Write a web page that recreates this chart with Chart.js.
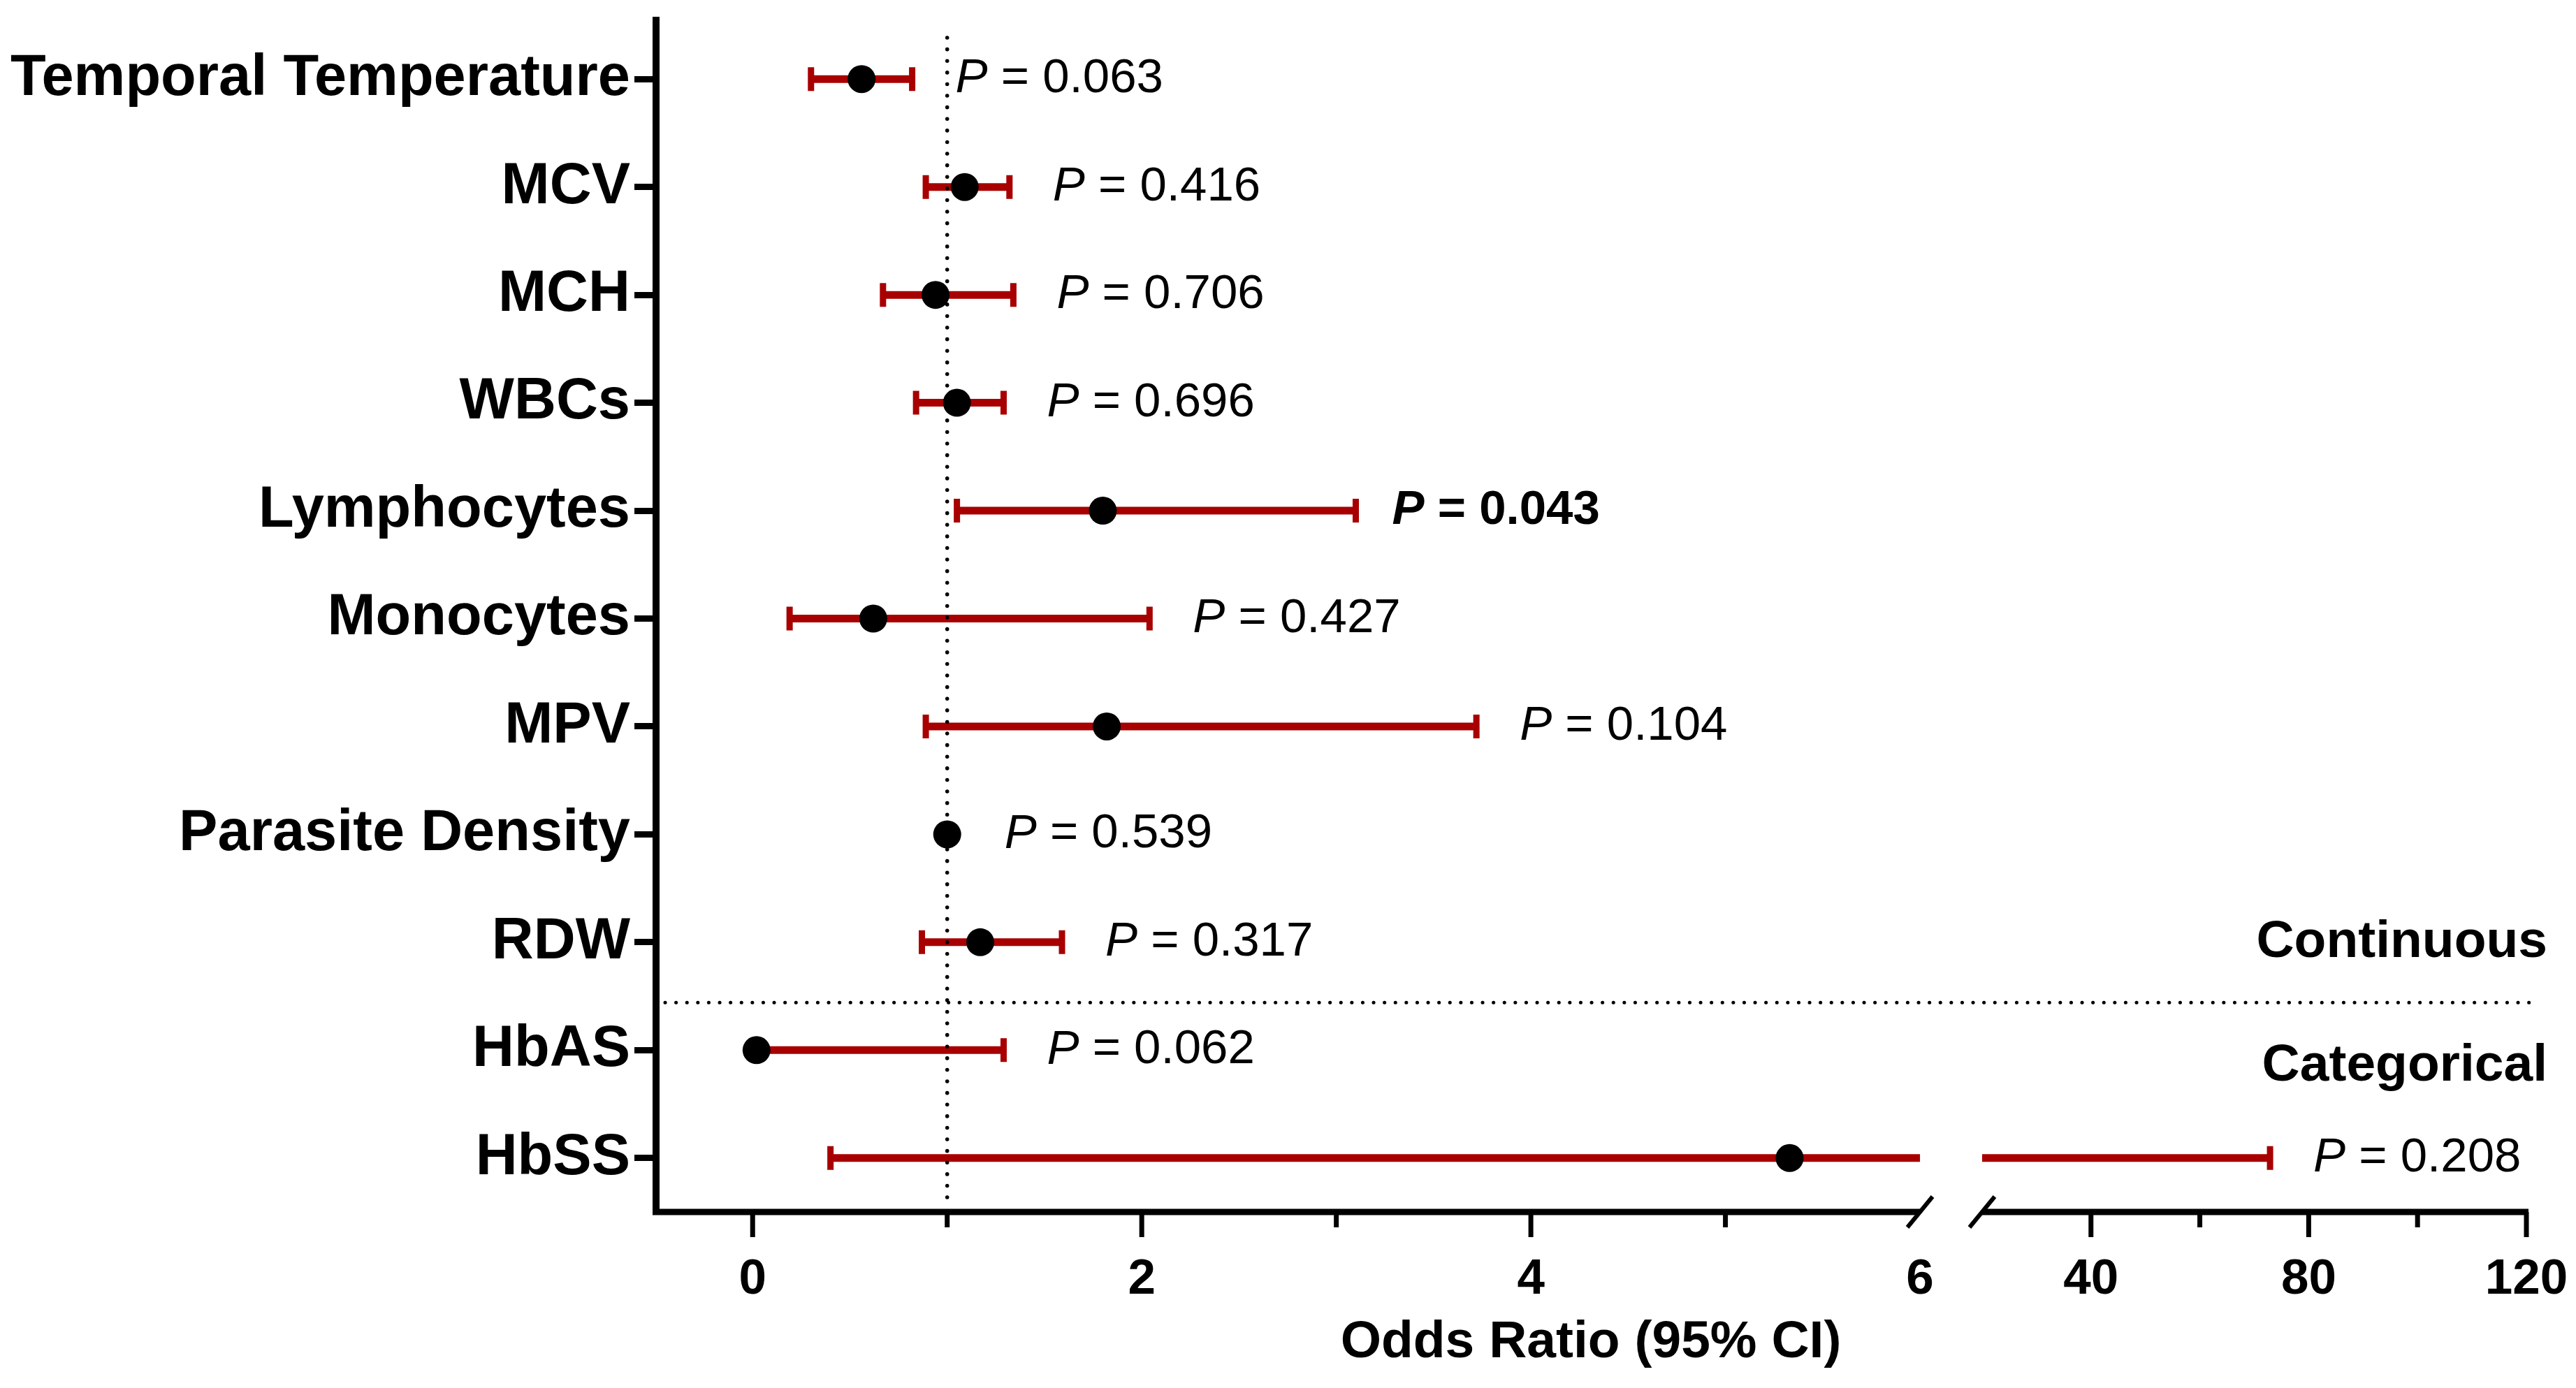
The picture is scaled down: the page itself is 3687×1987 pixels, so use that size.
<!DOCTYPE html>
<html>
<head>
<meta charset="utf-8">
<title>Odds Ratio (95% CI)</title>
<script src="https://cdn.jsdelivr.net/npm/chart.js@4.4.1/dist/chart.umd.min.js"></script>
<style>
  html, body { margin: 0; padding: 0; background: #fff; }
  #wrap { width: 3687px; height: 1987px; position: relative; }
</style>
</head>
<body>
<div id="wrap"><canvas id="forest"></canvas></div>
<script>
// data
const variables = ['Temporal Temperature', 'MCV', 'MCH', 'WBCs', 'Lymphocytes', 'Monocytes',
                   'MPV', 'Parasite Density', 'RDW', 'HbAS', 'HbSS'];
const oddsRatio = [0.56, 1.09, 0.94, 1.05, 1.80, 0.62, 1.82, 1.00, 1.17, 0.02, 5.33];
const ciLower   = [0.30, 0.89, 0.67, 0.84, 1.05, 0.19, 0.89, 1.00, 0.87, 0.00, 0.40];
const ciUpper   = [0.82, 1.32, 1.34, 1.29, 3.10, 2.04, 3.72, 1.00, 1.59, 1.29, 72.9];
const pValues   = ['0.063', '0.416', '0.706', '0.696', '0.043', '0.427', '0.104', '0.539', '0.317', '0.062', '0.208'];
const groupNames = ['Continuous', 'Categorical'];
const lastContinuous = 8;   // RDW is the last continuous variable
const xTicks  = [0, 1, 2, 3, 4, 5, 6, 40, 60, 80, 100, 120];
const xLabels = ['0', '', '2', '', '4', '', '6', '40', '', '80', '', '120'];
const axisBreak = [6, 20];
const refLine = 1;

const RED = '#a80000';
const FONT = "'Liberation Sans', Arial, Helvetica, sans-serif";

// linear scale with a gap between axisBreak[0] and axisBreak[1]
class BrokenScale extends Chart.LinearScale {
  segs() {
    const o = this.options;
    return { lo: o.min, b0: o.breakFrom, b1: o.breakTo, hi: o.max, f1: o.splitLeft, f2: o.splitRight };
  }
  buildTicks() {
    return this.options.tickValues.map(v => ({ value: v }));
  }
  getPixelForValue(value) {
    const s = this.segs();
    let d;
    if (value <= (s.b0 + s.b1) / 2) {
      d = (value - s.lo) / (s.b0 - s.lo) * s.f1;
    } else {
      d = s.f2 + (value - s.b1) / (s.hi - s.b1) * (1 - s.f2);
    }
    return this.getPixelForDecimal(d);
  }
  getValueForPixel(pixel) {
    const s = this.segs();
    const d = this.getDecimalForPixel(pixel);
    if (d <= s.f1) return s.lo + d / s.f1 * (s.b0 - s.lo);
    return s.b1 + (d - s.f2) / (1 - s.f2) * (s.hi - s.b1);
  }
}
BrokenScale.id = 'broken';
BrokenScale.defaults = Chart.LinearScale.defaults;
Chart.register(BrokenScale);

// CI bars, reference line and group separator under the points
const underlay = {
  id: 'underlay',
  beforeDatasetsDraw(chart) {
    const { ctx, chartArea, scales: { x, y } } = chart;
    ctx.save();
    ctx.strokeStyle = RED;
    ctx.lineCap = 'butt';
    variables.forEach((v, i) => {
      const py = y.getPixelForValue(i);
      const xl = x.getPixelForValue(ciLower[i]);
      const xu = x.getPixelForValue(ciUpper[i]);
      ctx.lineWidth = 11;
      ctx.beginPath();
      if (ciLower[i] < axisBreak[0] && ciUpper[i] > axisBreak[1]) {
        ctx.moveTo(xl, py); ctx.lineTo(x.getPixelForValue(axisBreak[0]), py);
        ctx.moveTo(x.getPixelForValue(axisBreak[1]), py); ctx.lineTo(xu, py);
      } else {
        ctx.moveTo(xl, py); ctx.lineTo(xu, py);
      }
      ctx.stroke();
      ctx.lineWidth = 9;
      ctx.beginPath();
      ctx.moveTo(xl, py - 17); ctx.lineTo(xl, py + 17);
      ctx.moveTo(xu, py - 17); ctx.lineTo(xu, py + 17);
      ctx.stroke();
    });
    // OR = 1 dotted line (round dots)
    const rx = x.getPixelForValue(refLine);
    ctx.strokeStyle = '#000';
    ctx.lineCap = 'round';
    ctx.lineWidth = 5.5;
    ctx.setLineDash([0.1, 16.5]);
    ctx.beginPath();
    ctx.moveTo(rx, chartArea.top + 18);
    ctx.lineTo(rx, chartArea.bottom - 6);
    ctx.stroke();
    // separator between continuous and categorical
    const sy = y.getPixelForValue(lastContinuous + 0.56);
    ctx.lineWidth = 5;
    ctx.setLineDash([0.1, 15.5]);
    ctx.beginPath();
    ctx.moveTo(chartArea.left + 14, sy);
    ctx.lineTo(chartArea.right + 16, sy);
    ctx.stroke();
    ctx.restore();
  }
};

// axis lines (x axis broken), tick marks, P values and group labels
const overlay = {
  id: 'overlay',
  afterDraw(chart) {
    const { ctx, chartArea, scales: { x, y } } = chart;
    const ay = chartArea.bottom;
    const x0 = x.getPixelForValue(axisBreak[0]);
    const x1 = x.getPixelForValue(axisBreak[1]);
    ctx.save();
    ctx.strokeStyle = '#000';
    ctx.lineWidth = 10;
    ctx.beginPath();
    ctx.moveTo(chartArea.left + 1, chartArea.top - 12);
    ctx.lineTo(chartArea.left + 1, ay);
    ctx.stroke();
    ctx.lineWidth = 9;
    ctx.beginPath();
    ctx.moveTo(chartArea.left - 4, ay); ctx.lineTo(x0, ay);
    ctx.moveTo(x1, ay); ctx.lineTo(chartArea.right + 3, ay);
    ctx.stroke();
    ctx.lineWidth = 6;
    ctx.beginPath();
    [x0, x1].forEach(bx => {
      ctx.moveTo(bx - 18, ay + 22); ctx.lineTo(bx + 18, ay - 22);
    });
    ctx.stroke();
    ctx.lineWidth = 7;
    ctx.beginPath();
    xTicks.forEach((v, i) => {
      if (v === axisBreak[0]) return;
      const tx = x.getPixelForValue(v);
      const len = xLabels[i] ? 32 : 18;
      ctx.moveTo(tx, ay); ctx.lineTo(tx, ay + 4 + len);
    });
    ctx.stroke();

    // P values
    ctx.fillStyle = '#000';
    ctx.textBaseline = 'middle';
    ctx.textAlign = 'left';
    variables.forEach((v, i) => {
      const py = y.getPixelForValue(i);
      const bold = parseFloat(pValues[i]) < 0.05 ? 'bold ' : '';
      const gap = bold ? 52 : 62;
      const start = Math.max(x.getPixelForValue(ciUpper[i]), x.getPixelForValue(oddsRatio[i]) + 20) + gap;
      ctx.font = 'italic ' + bold + '69px ' + FONT;
      ctx.fillText('P', start, py);
      const w = ctx.measureText('P').width;
      ctx.font = bold + '69px ' + FONT;
      ctx.fillText(' = ' + pValues[i], start + w, py);
    });

    // group labels
    ctx.font = 'bold 75px ' + FONT;
    ctx.textAlign = 'right';
    ctx.fillText(groupNames[0], chartArea.right + 30, y.getPixelForValue(lastContinuous));
    ctx.fillText(groupNames[1], chartArea.right + 30, y.getPixelForValue(lastContinuous + 1.15));
    ctx.restore();
  }
};

new Chart(document.getElementById('forest'), {
  type: 'scatter',
  data: {
    datasets: [{
      data: variables.map((v, i) => ({ x: oddsRatio[i], y: v })),
      backgroundColor: '#000',
      borderWidth: 0,
      pointRadius: 20,
      pointHoverRadius: 20
    }]
  },
  options: {
    responsive: true,
    maintainAspectRatio: false,
    devicePixelRatio: 1,
    animation: false,
    events: [],
    layout: { padding: { left: 0, right: 71, top: 36, bottom: 0 } },
    plugins: { legend: { display: false }, tooltip: { enabled: false } },
    scales: {
      x: {
        type: 'broken',
        min: -0.5,
        max: 120,
        breakFrom: axisBreak[0],
        breakTo: axisBreak[1],
        splitLeft: 0.6759,
        splitRight: 0.7091,
        tickValues: xTicks,
        grid: { display: false },
        border: { display: false },
        ticks: {
          autoSkip: false,
          maxRotation: 0,
          padding: 47,
          color: '#000',
          font: { family: FONT, size: 71, weight: 'bold' },
          callback: (val, i) => xLabels[i]
        },
        title: {
          display: true,
          text: 'Odds Ratio (95% CI)',
          color: '#000',
          font: { family: FONT, size: 75, weight: 'bold' },
          padding: { top: 0, bottom: 20 }
        },
        afterFit: s => { s.height = 252; s.paddingLeft = 0; s.paddingRight = 0; }
      },
      y: {
        type: 'category',
        labels: variables,
        offset: true,
        grid: {
          drawOnChartArea: false,
          drawTicks: true,
          tickLength: 30,
          tickWidth: 9,
          tickColor: '#000'
        },
        border: { display: false },
        ticks: {
          padding: 6,
          color: '#000',
          font: { family: FONT, size: 83, weight: 'bold' }
        },
        afterFit: s => { s.width = 938; s.paddingTop = 0; s.paddingBottom = 0; }
      }
    }
  },
  plugins: [underlay, overlay]
});
</script>
</body>
</html>
